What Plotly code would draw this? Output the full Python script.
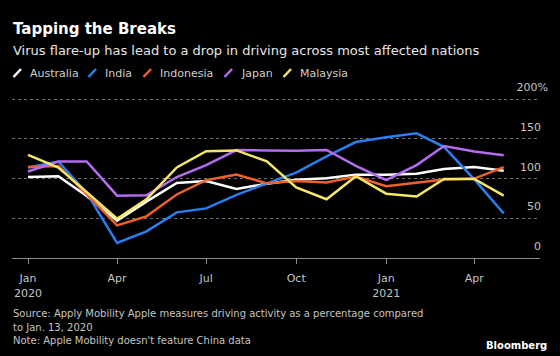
import plotly.graph_objects as go

# ---- data ----
months = ["2020-01-01", "2020-02-01", "2020-03-01", "2020-04-01", "2020-05-01", "2020-06-01",
          "2020-07-01", "2020-08-01", "2020-09-01", "2020-10-01", "2020-11-01", "2020-12-01",
          "2021-01-01", "2021-02-01", "2021-03-01", "2021-04-01", "2021-05-01"]

australia = [102, 103, 78, 47, 71, 94.5, 97, 87, 93.5, 98.5, 100.5, 105, 105, 106, 112, 114.5, 110]
india     = [114, 121.5, 82, 19, 33.5, 57.5, 62.5, 79.5, 94, 107.5, 128, 146, 152, 157, 140, 99, 56]
indonesia = [114.5, 116, 80, 41, 52.5, 80, 98, 105, 94, 97, 95, 102.5, 90.5, 94.5, 99, 100, 114.5]
japan     = [109, 121.5, 121.5, 78.5, 79, 102, 117, 136, 135.5, 135, 136, 116, 98, 117, 141, 134, 129.5]
malaysia  = [130, 114, 83, 49.5, 74, 114, 134.5, 135.5, 121.7, 89, 74, 103, 81, 77.5, 99.5, 99.5, 78.5]

series_names = ["Australia", "India", "Indonesia", "Japan", "Malaysia"]
series_values = [australia, india, indonesia, japan, malaysia]
colors = ["#ffffff", "#2a7ef0", "#f0602c", "#b46cf0", "#f5e66a"]

x_tickvals = ["2020-01-01", "2020-04-01", "2020-07-01", "2020-10-01", "2021-01-01", "2021-04-01"]
x_ticktext = ["Jan<br>2020", "Apr", "Jul", "Oct", "Jan<br>2021", "Apr"]
y_tickvals = [0, 50, 100, 150, 200]
PAD = "\u00a0\u00a0"
y_ticktext = ["0" + PAD, "50" + PAD, "100" + PAD, "150" + PAD, "200%"]

title = "Tapping the Breaks"
subtitle = "Virus flare-up has lead to a drop in driving across most affected nations"
footer = ["Source: Apply Mobility Apple measures driving activity as a percentage compared",
          "to Jan. 13, 2020",
          "Note: Apple Mobility doesn't feature China data"]

# ---- layout geometry ----
W, H = 560, 356
L, R, T, B = 12, 20, 76, 98
PW, PH = W - L - R, H - T - B
FONT = "DejaVu Sans"


def px2x(px):
    return (px - L) / PW


def py2y(py):
    return (H - B - py) / PH


fig = go.Figure()
for name, vals, col in zip(series_names, series_values, colors):
    fig.add_trace(go.Scatter(x=months, y=vals, name=name, mode="lines",
                             line=dict(color=col, width=2.5), showlegend=False,
                             hoverinfo="skip"))

annotations = []
shapes = []

annotations.append(dict(text="<b>" + title + "</b>", x=px2x(12), y=py2y(29), xref="paper", yref="paper",
                        xanchor="left", yanchor="middle", showarrow=False,
                        font=dict(family=FONT, size=15, color="#ffffff"), borderpad=0))
annotations.append(dict(text=subtitle, x=px2x(12), y=py2y(50), xref="paper", yref="paper",
                        xanchor="left", yanchor="middle", showarrow=False,
                        font=dict(family=FONT, size=13, color="#e6e6e6"), borderpad=0))

# custom legend with slash swatches
legend_x = [13, 88, 143, 224, 283]
for lx, name, col in zip(legend_x, series_names, colors):
    shapes.append(dict(type="line", xref="paper", yref="paper",
                       x0=px2x(lx + 0.5), y0=py2y(77), x1=px2x(lx + 8), y1=py2y(69),
                       line=dict(color=col, width=2.5)))
    annotations.append(dict(text=name, x=px2x(lx + 15.5), y=py2y(73.5), xref="paper", yref="paper",
                            xanchor="left", yanchor="middle", showarrow=False,
                            font=dict(family=FONT, size=11, color="#cfcfcf"), borderpad=0))

for i, (line, py) in enumerate(zip(footer, [313.5, 327, 340])):
    annotations.append(dict(text=line, x=px2x(12), y=py2y(py), xref="paper", yref="paper",
                            xanchor="left", yanchor="middle", showarrow=False,
                            font=dict(family=FONT, size=10, color="#c4c4c4"), borderpad=0))

annotations.append(dict(text="<b>Bloomberg</b>", x=px2x(548), y=py2y(345), xref="paper", yref="paper",
                        xanchor="right", yanchor="middle", showarrow=False,
                        font=dict(family=FONT, size=10, color="#ffffff"), borderpad=0))

fig.update_layout(
    width=W, height=H,
    margin=dict(l=L, r=R, t=T, b=B),
    paper_bgcolor="#000000", plot_bgcolor="#000000",
    showlegend=False,
    hovermode=False,
    annotations=annotations,
    shapes=shapes,
    xaxis=dict(
        type="date",
        range=["2019-12-15 15:36", "2021-06-07 02:00"],
        tickvals=x_tickvals, ticktext=x_ticktext,
        showgrid=False, zeroline=False,
        showline=True, linecolor="#8c8c8c", linewidth=1,
        ticks="outside", ticklen=5, tickcolor="#8c8c8c", tickwidth=1,
        ticklabelstandoff=5,
        tickfont=dict(family=FONT, size=11, color="#c4c4c4"),
        fixedrange=True,
    ),
    yaxis=dict(
        side="right",
        range=[0, PH / 0.794],
        tickvals=y_tickvals, ticktext=y_ticktext,
        ticklabelposition="inside top",
        ticklabeloverflow="allow",
        ticklabelshift=-4,
        ticklabelstandoff=-11,
        showgrid=True, gridcolor="#707070", gridwidth=1, griddash="dot",
        zeroline=False, showline=False, ticks="",
        tickfont=dict(family=FONT, size=11, color="#c4c4c4"),
        fixedrange=True,
    ),
)

fig.write_html("out.html", config={"displayModeBar": False},
               post_script="document.body.style.margin='0';document.body.style.background='#000';")
